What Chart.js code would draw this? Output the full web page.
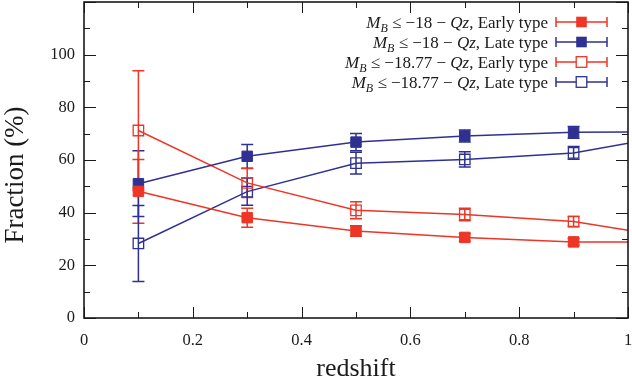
<!DOCTYPE html>
<html><head><meta charset="utf-8">
<script src="https://cdn.jsdelivr.net/npm/chart.js@4"></script>
<style>html,body{margin:0;padding:0;background:#fff}#wrap{width:632px;height:377px}</style>
</head><body><div id="wrap"><canvas id="c" width="632" height="377"></canvas></div>
<script>
// ---- data ----
const redshift = [0.1, 0.3, 0.5, 0.7, 0.9, 1.1];
const early18 = [48.1, 38.1, 33.0, 30.6, 28.9, 28.9];
const early18Err = [12.1, 3.6, 2.0, 1.5, 1.3, null];
const late18 = [51.0, 61.4, 66.8, 69.1, 70.5, 70.7];
const late18Err = [12.5, 4.5, 3.3, 2.3, 2.2, null];
const early1877 = [71.2, 51.3, 40.9, 39.3, 36.6, 30.0];
const early1877Err = [22.7, 5.5, 3.2, 2.4, 1.9, null];
const late1877 = [28.3, 48.0, 58.8, 60.2, 62.7, 70.1];
const late1877Err = [14.4, 5.2, 4.1, 2.9, 2.4, null];
const yTickValues = [0, 20, 40, 60, 80, 100];
const xTickValues = [0, 0.2, 0.4, 0.6, 0.8, 1];
const yTitle = 'Fraction (%)';
const xTitle = 'redshift';
const legendLabels = [
  {lim: '18', type: 'Early type'},
  {lim: '18', type: 'Late type'},
  {lim: '18.77', type: 'Early type'},
  {lim: '18.77', type: 'Late type'}
];

const RED = '#ee3526';
const BLUE = '#2e3192';
const INK = '#1a1a1a';
const SERIF = '"Liberation Serif", "DejaVu Serif", serif';

const series = [
  {vals: early18, err: early18Err, color: RED, filled: true},
  {vals: late18, err: late18Err, color: BLUE, filled: true},
  {vals: early1877, err: early1877Err, color: RED, filled: false},
  {vals: late1877, err: late1877Err, color: BLUE, filled: false}
];

const datasets = series.map((s, k) => ({
  label: 'M_B <= -' + legendLabels[k].lim + ' - Qz, ' + legendLabels[k].type,
  data: redshift.map((z, i) => ({x: z, y: s.vals[i]})),
  borderColor: s.color,
  borderWidth: 1.5,
  pointStyle: 'rect',
  pointRadius: 7.4,
  pointBorderWidth: s.filled ? 1 : 1.3,
  pointBorderColor: s.color,
  pointBackgroundColor: s.filled ? s.color : 'rgba(0,0,0,0)',
  backgroundColor: s.filled ? s.color : 'rgba(0,0,0,0)',
  tension: 0,
  clip: 0
}));

const errorBars = {
  id: 'errorBars',
  beforeDatasetsDraw(chart) {
    const {ctx, chartArea: a, scales: {x, y}} = chart;
    ctx.save();
    ctx.beginPath();
    ctx.rect(a.left, a.top, a.right - a.left, a.bottom - a.top);
    ctx.clip();
    ctx.lineWidth = 1.5;
    series.forEach(s => {
      ctx.strokeStyle = s.color;
      s.vals.forEach((v, i) => {
        const e = s.err[i];
        if (e == null) return;
        const px = x.getPixelForValue(redshift[i]);
        const yt = y.getPixelForValue(v + e);
        const yb = y.getPixelForValue(v - e);
        ctx.beginPath();
        ctx.moveTo(px, yt); ctx.lineTo(px, yb);
        ctx.moveTo(px - 6, yt); ctx.lineTo(px + 6, yt);
        ctx.moveTo(px - 6, yb); ctx.lineTo(px + 6, yb);
        ctx.stroke();
      });
    });
    ctx.restore();
  }
};

const frameTicks = {
  id: 'frameTicks',
  afterDraw(chart) {
    const {ctx, chartArea: a, scales: {x, y}} = chart;
    ctx.save();
    ctx.strokeStyle = INK;
    ctx.lineWidth = 1;
    ctx.beginPath();
    for (let k = 0; k <= 12; k++) {
      const v = k * 10;
      const py = Math.round(y.getPixelForValue(v)) + 0.5;
      const len = (k % 2 === 0) ? 12 : 6;
      ctx.moveTo(a.left, py); ctx.lineTo(a.left + len, py);
      ctx.moveTo(a.right, py); ctx.lineTo(a.right - len, py);
    }
    for (let k = 0; k <= 10; k++) {
      const v = k / 10;
      const px = Math.round(x.getPixelForValue(v)) + 0.5;
      const len = (k % 2 === 0) ? 11 : 6;
      ctx.moveTo(px, a.bottom); ctx.lineTo(px, a.bottom - len);
      ctx.moveTo(px, a.top); ctx.lineTo(px, a.top + len);
    }
    ctx.stroke();
    ctx.lineWidth = 1.6;
    ctx.strokeRect(a.left, a.top, a.right - a.left, a.bottom - a.top);

    // y axis title
    ctx.save();
    ctx.translate(16, 175);
    ctx.rotate(-Math.PI / 2);
    ctx.font = '27px ' + SERIF;
    ctx.fillStyle = INK;
    ctx.textAlign = 'center';
    ctx.textBaseline = 'middle';
    ctx.fillText(yTitle, 0, 0);
    ctx.restore();

    // legend
    const fs = 17;
    const rows = [22, 42, 62, 82];
    const textRight = 548;
    const fN = fs + 'px ' + SERIF;
    const fI = 'italic ' + fs + 'px ' + SERIF;
    const fS = 'italic ' + Math.round(fs * 0.7) + 'px ' + SERIF;
    ctx.textBaseline = 'alphabetic';
    ctx.textAlign = 'left';
    legendLabels.forEach((L, k) => {
      const base = rows[k] + 6;
      const segs = [
        {t: 'M', f: fI, dy: 0},
        {t: 'B', f: fS, dy: 4},
        {t: ' \u2264 \u2212' + L.lim + ' \u2212 ', f: fN, dy: 0},
        {t: 'Qz', f: fI, dy: 0},
        {t: ', ' + L.type, f: fN, dy: 0}
      ];
      let w = 0;
      segs.forEach(s => { ctx.font = s.f; s.w = ctx.measureText(s.t).width; w += s.w; });
      let cx = textRight - w;
      ctx.fillStyle = INK;
      segs.forEach(s => { ctx.font = s.f; ctx.fillText(s.t, cx, base + s.dy); cx += s.w; });
      const s = series[k];
      const yy = rows[k];
      ctx.strokeStyle = s.color;
      ctx.lineWidth = 1.5;
      ctx.beginPath();
      ctx.moveTo(556, yy); ctx.lineTo(607, yy);
      ctx.moveTo(556, yy - 5); ctx.lineTo(556, yy + 5);
      ctx.moveTo(607, yy - 5); ctx.lineTo(607, yy + 5);
      ctx.stroke();
      const h = 5.3;
      if (s.filled) {
        ctx.fillStyle = s.color;
        ctx.fillRect(581.5 - h, yy - h, 2 * h, 2 * h);
      } else {
        ctx.fillStyle = '#fff';
        ctx.fillRect(581.5 - h, yy - h, 2 * h, 2 * h);
        ctx.lineWidth = 1.3;
        ctx.strokeRect(581.5 - h, yy - h, 2 * h, 2 * h);
      }
    });
    ctx.restore();
  }
};

new Chart(document.getElementById('c'), {
  type: 'line',
  data: {datasets},
  options: {
    responsive: false,
    animation: false,
    layout: {autoPadding: false, padding: {top: 2, right: 4, left: 0, bottom: 0}},
    plugins: {legend: {display: false}, tooltip: {enabled: false}},
    scales: {
      x: {
        type: 'linear', min: 0, max: 1,
        afterBuildTicks: s => { s.ticks = xTickValues.map(v => ({value: v})); },
        afterFit: s => { s.height = 59; s.paddingLeft = 0; s.paddingRight = 0; s.paddingTop = 0; s.paddingBottom = 0; },
        grid: {display: false, drawTicks: false},
        border: {display: false},
        ticks: {font: {family: SERIF, size: 16.5}, color: INK, padding: 13, maxRotation: 0,
                callback: v => String(+v.toFixed(1))},
        title: {display: true, text: xTitle, color: INK,
                font: {family: SERIF, size: 26, lineHeight: 0.58}, padding: {top: 0, bottom: 0}}
      },
      y: {
        type: 'linear', min: 0, max: 120,
        afterBuildTicks: s => { s.ticks = yTickValues.map(v => ({value: v})); },
        afterFit: s => { s.width = 84; s.paddingLeft = 0; s.paddingRight = 0; s.paddingTop = 0; s.paddingBottom = 0; },
        grid: {display: false, drawTicks: false},
        border: {display: false},
        ticks: {font: {family: SERIF, size: 16.5}, color: INK, padding: 9},
        title: {display: false}
      }
    }
  },
  plugins: [errorBars, frameTicks]
});
</script></body></html>
